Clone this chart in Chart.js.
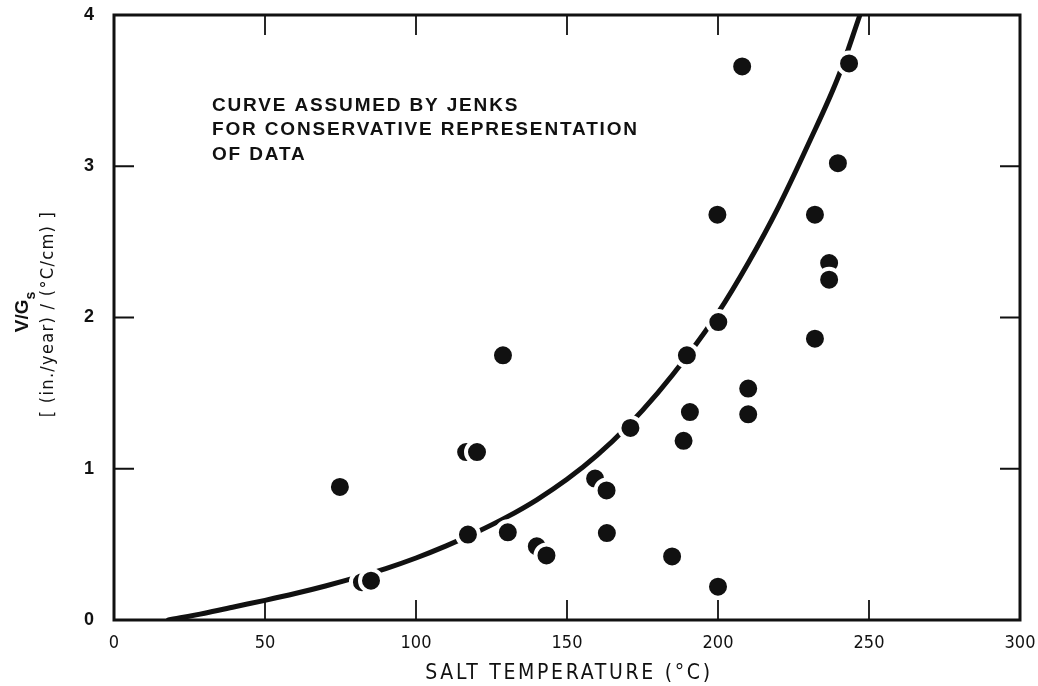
<!DOCTYPE html>
<html>
<head>
<meta charset="utf-8">
<script src="https://cdn.jsdelivr.net/npm/chart.js@4"></script>
<style>
html,body{margin:0;padding:0;background:#fff;}
#wrap{width:1038px;height:686px;}
</style>
</head>
<body>
<div id="wrap"><canvas id="c" width="1038" height="686"></canvas></div>
<script>
// Measured data points: salt temperature (°C) and V/Gs
const temperatures = [74.8, 82.1, 85.1, 117.2, 116.6, 120.2, 128.8, 130.4, 140.0, 143.2, 159.3, 163.1, 163.2, 171.0, 184.8, 188.6, 189.7, 190.7, 200.0, 200.1, 199.8, 208.0, 210.0, 210.0, 232.1, 232.1, 236.8, 236.8, 239.7, 243.4];
const rates        = [0.88, 0.25, 0.26, 0.565, 1.11, 1.11, 1.75, 0.58, 0.487, 0.427, 0.935, 0.857, 0.575, 1.27, 0.42, 1.185, 1.75, 1.375, 0.22, 1.97, 2.68, 3.66, 1.53, 1.36, 2.68, 1.86, 2.36, 2.25, 3.02, 3.68];

// Curve assumed by Jenks
const curveTemps = [18, 30, 40, 50, 60, 70, 80, 90, 100, 110, 120, 130, 140, 150, 160, 170, 180, 190, 200, 210, 220, 230, 240, 247];
const curveRates = [0, 0.045, 0.088, 0.13, 0.175, 0.225, 0.28, 0.34, 0.41, 0.49, 0.58, 0.68, 0.795, 0.93, 1.09, 1.28, 1.50, 1.75, 2.03, 2.36, 2.73, 3.15, 3.60, 4.0];

const xTicks = [0, 50, 100, 150, 200, 250, 300];
const yTicks = [0, 1, 2, 3, 4];

const xTitle = 'SALT TEMPERATURE (°C)';
const yTitleMain = 'V/G';
const yTitleSub = 's';
const yTitleUnits = '[ (in./year) / (°C/cm) ]';
const noteLines = ['CURVE ASSUMED BY JENKS', 'FOR CONSERVATIVE REPRESENTATION', 'OF DATA'];

const condensed = "'Liberation Sans Narrow', 'DejaVu Sans Condensed', 'Roboto Condensed', 'Liberation Sans', sans-serif";
const sans = "'Liberation Sans', Arial, Helvetica, sans-serif";

const pointData = temperatures.map((t, i) => ({x: t, y: rates[i]}));
const curveData = curveTemps.map((t, i) => ({x: t, y: curveRates[i]}));

function fitSpacing(ctx, text, target) {
  ctx.letterSpacing = '0px';
  const w = ctx.measureText(text).width;
  const ls = Math.max(0, (target - w) / Math.max(1, text.length - 1));
  ctx.letterSpacing = ls.toFixed(2) + 'px';
  return ls;
}

const whiteBg = {
  id: 'whiteBg',
  beforeDraw(chart) {
    const ctx = chart.ctx;
    ctx.save();
    ctx.fillStyle = '#fff';
    ctx.fillRect(0, 0, chart.width, chart.height);
    ctx.restore();
  }
};

const frameAndTicks = {
  id: 'frameAndTicks',
  afterDraw(chart) {
    const ctx = chart.ctx;
    const a = chart.chartArea;
    const xs = chart.scales.x, ys = chart.scales.y;
    ctx.save();
    ctx.strokeStyle = '#111';
    ctx.lineWidth = 1.8;
    const tl = 20;
    ctx.beginPath();
    xTicks.forEach(v => {
      if (v <= xs.min || v >= xs.max) return;
      const px = xs.getPixelForValue(v);
      ctx.moveTo(px, a.bottom); ctx.lineTo(px, a.bottom - tl);
      ctx.moveTo(px, a.top); ctx.lineTo(px, a.top + tl);
    });
    yTicks.forEach(v => {
      if (v <= ys.min || v >= ys.max) return;
      const py = ys.getPixelForValue(v);
      ctx.moveTo(a.left, py); ctx.lineTo(a.left + tl, py);
      ctx.moveTo(a.right, py); ctx.lineTo(a.right - tl, py);
    });
    ctx.stroke();
    ctx.lineWidth = 3;
    ctx.strokeRect(a.left, a.top, a.right - a.left, a.bottom - a.top);
    ctx.restore();
  }
};

const titlesPlugin = {
  id: 'titlesPlugin',
  afterDraw(chart) {
    const ctx = chart.ctx;
    const a = chart.chartArea;
    // y title main line: V/Gs
    ctx.save();
    ctx.fillStyle = '#111';
    ctx.translate(23, 312);
    ctx.rotate(-Math.PI / 2);
    ctx.textBaseline = 'middle';
    ctx.textAlign = 'left';
    ctx.font = 'bold 19px ' + sans;
    const wMain = ctx.measureText(yTitleMain).width;
    ctx.font = 'bold 14px ' + sans;
    const wSub = ctx.measureText(yTitleSub).width;
    const total = wMain + wSub;
    ctx.font = 'bold 19px ' + sans;
    ctx.fillText(yTitleMain, -total / 2, 0);
    ctx.font = 'bold 14px ' + sans;
    ctx.fillText(yTitleSub, -total / 2 + wMain, 8);
    ctx.restore();

    // y title units line
    ctx.save();
    ctx.fillStyle = '#111';
    ctx.translate(48, 314);
    ctx.rotate(-Math.PI / 2);
    ctx.font = '18px ' + condensed;
    ctx.textAlign = 'center';
    ctx.textBaseline = 'middle';
    fitSpacing(ctx, yTitleUnits, 205);
    ctx.fillText(yTitleUnits, 0, 0);
    ctx.restore();

    // x title
    ctx.save();
    ctx.fillStyle = '#111';
    ctx.font = '21px ' + condensed;
    ctx.textAlign = 'center';
    ctx.textBaseline = 'middle';
    fitSpacing(ctx, xTitle, 285);
    ctx.fillText(xTitle, (a.left + a.right) / 2 + 2, 674);
    ctx.restore();

    // annotation
    ctx.save();
    ctx.fillStyle = '#111';
    ctx.font = 'bold 19px ' + sans;
    ctx.textAlign = 'left';
    ctx.textBaseline = 'middle';
    fitSpacing(ctx, noteLines[1], 425);
    const ys = [105.5, 129.5, 155];
    noteLines.forEach((line, i) => ctx.fillText(line, 212, ys[i]));
    ctx.restore();
  }
};

new Chart(document.getElementById('c'), {
  type: 'scatter',
  data: {
    datasets: [
      {
        label: 'data',
        data: pointData,
        pointRadius: 11,
        pointHoverRadius: 11,
        backgroundColor: '#111',
        borderColor: '#fff',
        borderWidth: 4,
        showLine: false
      },
      {
        label: 'curve',
        data: curveData,
        showLine: true,
        pointRadius: 0,
        pointHoverRadius: 0,
        borderColor: '#111',
        borderWidth: 5,
        borderCapStyle: 'round',
        cubicInterpolationMode: 'monotone',
        fill: false
      }
    ]
  },
  options: {
    responsive: false,
    animation: false,
    devicePixelRatio: 1,
    events: [],
    layout: {padding: {top: 15, right: 18, bottom: 0, left: 0}},
    plugins: {legend: {display: false}, tooltip: {enabled: false}},
    scales: {
      x: {
        type: 'linear',
        min: 0, max: 300,
        afterFit: s => { s.height = 66; s.paddingLeft = 0; s.paddingRight = 0; s.paddingTop = 0; s.paddingBottom = 0; },
        afterBuildTicks: s => { s.ticks = xTicks.map(v => ({value: v})); },
        grid: {display: false, drawTicks: false},
        border: {display: false},
        ticks: {color: '#111', font: {family: condensed, size: 18}, padding: 13, maxRotation: 0}
      },
      y: {
        type: 'linear',
        min: 0, max: 4,
        afterFit: s => { s.width = 114; s.paddingLeft = 0; s.paddingRight = 0; s.paddingTop = 0; s.paddingBottom = 0; },
        afterBuildTicks: s => { s.ticks = yTicks.map(v => ({value: v})); },
        grid: {display: false, drawTicks: false},
        border: {display: false},
        ticks: {color: '#111', font: {family: sans, size: 18, weight: 'bold'}, padding: 20}
      }
    }
  },
  plugins: [whiteBg, frameAndTicks, titlesPlugin]
});
</script>
</body>
</html>
